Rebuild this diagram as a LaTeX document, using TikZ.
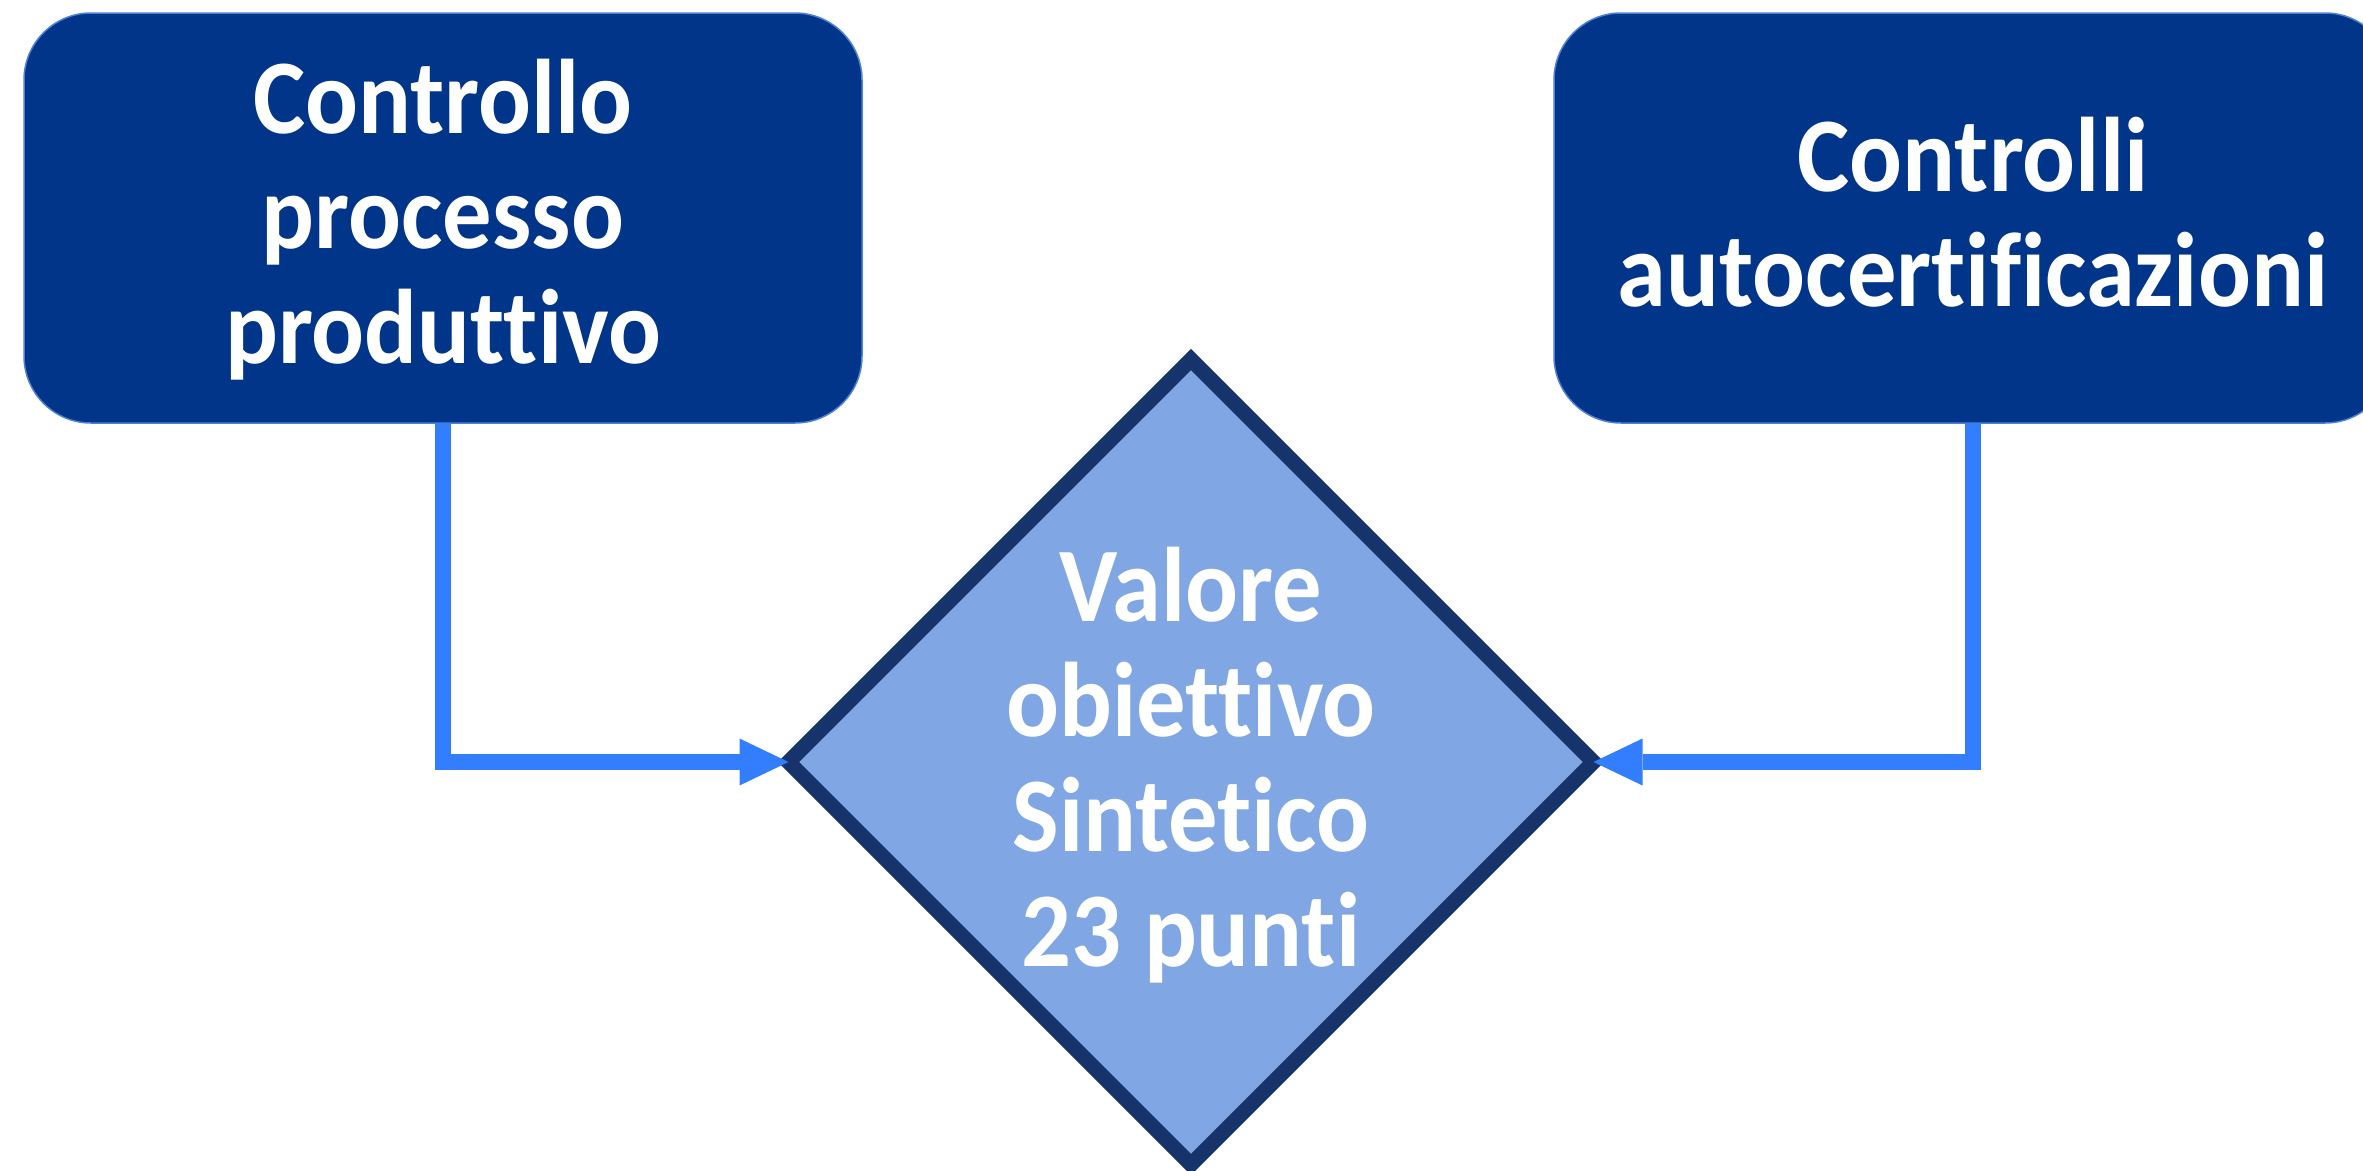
\documentclass[tikz,border=0pt]{standalone}
\usepackage{fontspec}
\setmainfont[Ligatures=NoCommon,FakeStretch=0.93]{Carlito}
\usetikzlibrary{shapes.geometric,arrows.meta}
\definecolor{boxblue}{HTML}{003589}
\definecolor{boxedge}{HTML}{4F80D6}
\definecolor{linkblue}{HTML}{337DFF}
\definecolor{diafill}{HTML}{80A7E4}
\definecolor{diaedge}{HTML}{16346B}
\begin{document}
\begin{tikzpicture}[x=1pt,y=-1pt,
  box/.style={draw=boxedge,line width=1.5pt,fill=boxblue,rounded corners=67pt,minimum width=838pt,minimum height=410pt,inner sep=0pt,outer sep=0pt,anchor=north west},
  lbl/.style={text=white,font=\fontsize{106}{115}\selectfont\bfseries,align=center,inner sep=0pt},
  link/.style={draw=linkblue,line width=16pt,line join=miter,-{Triangle[length=49pt,width=47pt,line width=0pt]}}]
\useasboundingbox (0,0) rectangle (2363,1170);
\clip (0,0) rectangle (2363,1170);
\node[box] (lbox) at (24,13) {};
\node[box] (rbox) at (1554,13) {};
\node[lbl] (ltext) at (443,220) {Controllo\\processo\\produttivo};
\node[lbl] (rtext) at (1973,212) {Controlli\\autocertificazioni};
\node[diamond,aspect=1,minimum width=805pt,minimum height=805pt,inner sep=0pt,outer sep=0pt,draw=diaedge,fill=diafill,line width=15pt,line join=miter] (dia) at (1191,762) {};
\node[lbl] (dtext) at (1191,765) {Valore\\obiettivo\\Sintetico\\23 punti};
\draw[link] (lbox.south) |- (dia.west);
\draw[link] (rbox.south) |- (dia.east);
\end{tikzpicture}
\end{document}
